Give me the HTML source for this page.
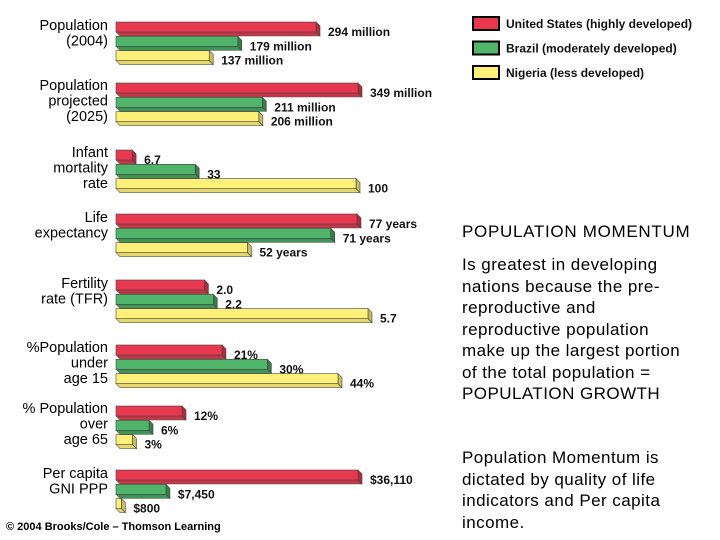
<!DOCTYPE html>
<html><head><meta charset="utf-8"><style>
body{margin:0;background:#fff;width:720px;height:540px;overflow:hidden;font-family:"Liberation Sans",Arial,sans-serif}
svg text{font-family:"Liberation Sans",Arial,sans-serif}
.side{position:absolute;left:462px;color:#000;font-size:17px;letter-spacing:0.45px;line-height:21.5px;white-space:nowrap}
</style></head><body>
<svg id="chart" width="720" height="540" style="position:absolute;left:0;top:0"></svg>
<div class="side" style="top:221px;font-size:17px;letter-spacing:0.7px">POPULATION MOMENTUM</div>
<div class="side" style="top:254px">Is greatest in developing<br>nations because the pre-<br>reproductive and<br>reproductive population<br>make up the largest portion<br>of the total population =<br>POPULATION GROWTH</div>
<div class="side" style="top:447px">Population Momentum is<br>dictated by quality of life<br>indicators and Per capita<br>income.</div>
<script>
const categories=[["Population","(2004)"],["Population","projected","(2025)"],["Infant","mortality","rate"],["Life","expectancy"],["Fertility","rate (TFR)"],["%Population","under","age 15"],["% Population","over","age 65"],["Per capita","GNI PPP"]];
const usValues=[294,349,6.7,77,2.0,21,12,36110];
const brValues=[179,211,33,71,2.2,30,6,7450];
const ngValues=[137,206,100,52,5.7,44,3,800];
const usLabels=["294 million","349 million","6.7","77 years","2.0","21%","12%","$36,110"];
const brLabels=["179 million","211 million","33","71 years","2.2","30%","6%","$7,450"];
const ngLabels=["137 million","206 million","100","52 years","5.7","44%","3%","$800"];
const seriesNames=["United States (highly developed)","Brazil (moderately developed)","Nigeria (less developed)"];
// per-group axis: domain min, domain max, pixel length at max
const domMin=[0,0,0,22,0,0,0,0];
const domMax=[294,349,100,77,5.7,44,12,36110];
const groupPx=[200,242,240,241,252,222,66,242];
const groupTop=[22,83,150,214,280,345,406,470];
const cols=[["#e8384f","#b02a3b","#c83445"],["#50b46a","#347c48","#3f9556"],["#fff07a","#c8bd5a","#e6d868"]];
const svg=document.getElementById('chart');const NS="http://www.w3.org/2000/svg";
function el(t,a){const e=document.createElementNS(NS,t);for(const k in a)e.setAttribute(k,a[k]);svg.appendChild(e);return e;}
function xLen(g,v){return Math.max(4,(v-domMin[g])/(domMax[g]-domMin[g])*groupPx[g]);}
const X0=116,H=10,D=4;
const vals=[usValues,brValues,ngValues],labs=[usLabels,brLabels,ngLabels],keys=["us","brazil","nigeria"];
categories.forEach((cat,g)=>{
  const y0=groupTop[g];
  const n=cat.length;
  cat.forEach((line,i)=>{const t=el('text',{x:108,y:y0+8+i*15.5-(n===2?0:1),'text-anchor':'end','font-size':14.5,fill:'#000'});t.textContent=line;
    
    });
  for(let s=0;s<3;s++){
    const y=y0+s*14.3,w=xLen(g,vals[s][g]),c=cols[s];
    const gr=el('g',{});
    
    
    const p1=document.createElementNS(NS,'polygon');p1.setAttribute('points',`${X0},${y+H} ${X0+w},${y+H} ${X0+w+D},${y+H+D} ${X0+D},${y+H+D}`);p1.setAttribute('fill',c[2]);p1.setAttribute('stroke','#555');p1.setAttribute('stroke-width','0.6');gr.appendChild(p1);
    const p2=document.createElementNS(NS,'polygon');p2.setAttribute('points',`${X0+w},${y} ${X0+w+D},${y+D} ${X0+w+D},${y+H+D} ${X0+w},${y+H}`);p2.setAttribute('fill',c[1]);p2.setAttribute('stroke','#444');p2.setAttribute('stroke-width','0.6');gr.appendChild(p2);
    const r=document.createElementNS(NS,'rect');r.setAttribute('x',X0);r.setAttribute('y',y);r.setAttribute('width',w);r.setAttribute('height',H);r.setAttribute('fill',c[0]);r.setAttribute('stroke','#444');r.setAttribute('stroke-width','0.6');gr.appendChild(r);
    const t=el('text',{x:X0+w+D+8,y:y+H+4,'font-size':12,'font-weight':'bold',fill:'#111'});t.textContent=labs[s][g];
    
    
  }
});
seriesNames.forEach((nm,i)=>{
  const y=17+i*24.5;
  const r=el('rect',{x:473,y:y,width:26,height:13,fill:cols[i][0],stroke:'#000','stroke-width':2});
  
  
  const t=el('text',{x:506,y:y+11,'font-size':12,'font-weight':'bold',fill:'#111'});t.textContent=nm;
  
  
});
const cr=el('text',{x:6,y:530,'font-size':11,'font-weight':'bold',fill:'#000'});cr.textContent="© 2004 Brooks/Cole – Thomson Learning";


</script>
</body></html>
